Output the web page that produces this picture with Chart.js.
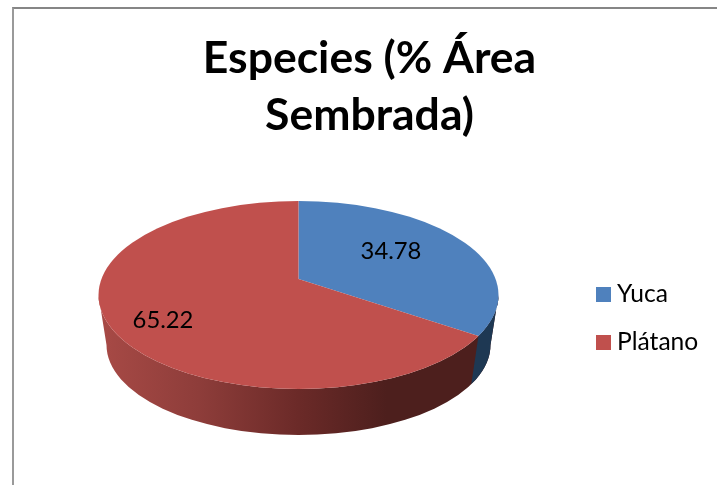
<!DOCTYPE html>
<html>

<head>
    <title>Especies</title>
    <script src="https://cdn.jsdelivr.net/npm/chart.js"></script>
    <style>
        html, body {
            margin: 0;
            background: white;
            overflow: hidden;
        }

        .frame {
            position: absolute;
            left: 12px;
            top: 7px;
            width: 705px;
            height: 478px;
            box-sizing: border-box;
            border-top: 2px solid #868686;
            border-left: 2px solid #9a9a9a;
        }

        canvas {
            position: absolute;
            left: 0;
            top: 0;
        }
    </style>
</head>

<body>
    <div class="frame"></div>
    <canvas id="pieChart" width="717" height="485"></canvas>

    <script>
        const categories = ["Yuca", "Plátano"];
        const values = [34.78, 65.22];
        const valueLabels = ["34.78", "65.22"];
        const topColors = ["#4F81BD", "#C0504D"];

        // 3d look: top face and bottom face ellipses, slices fan out from the apex
        const top3d = { x: 298.5, y: 295, rx: 200, ry: 94 };
        const bottom3d = { x: 298.5, y: 345, rx: 192, ry: 90 };
        const apex = { x: 298.5, y: 279 };
        const squash = 0.449;
        const labelSpots = [{ x: 391, y: 251 }, { x: 163, y: 320 }];
        const legendSpot = { boxX: 596, textX: 617, firstY: 294.5, gap: 48, box: 15 };
        const labelFont = '23.8px Lato';
        const legendFont = '24.6px Lato';

        function edgeParam(angle) {
            // where the slice edge meets the top ellipse
            const ux = Math.cos(angle), uy = squash * Math.sin(angle);
            const px = (apex.x - top3d.x) / top3d.rx, py = (apex.y - top3d.y) / top3d.ry;
            const qx = ux / top3d.rx, qy = uy / top3d.ry;
            const a = qx * qx + qy * qy, b = 2 * (px * qx + py * qy), c = px * px + py * py - 1;
            const s = (-b + Math.sqrt(b * b - 4 * a * c)) / (2 * a);
            return Math.atan2((apex.y + uy * s - top3d.y) / top3d.ry, (apex.x + ux * s - top3d.x) / top3d.rx);
        }

        function wallPath(ctx) {
            ctx.beginPath();
            ctx.ellipse(top3d.x, top3d.y, top3d.rx, top3d.ry, 0, 0, Math.PI);
            ctx.ellipse(bottom3d.x, bottom3d.y, bottom3d.rx, bottom3d.ry, 0, Math.PI, 0, true);
            ctx.closePath();
        }

        const pie3d = {
            id: 'pie3d',
            beforeDatasetsDraw(chart) {
                const ctx = chart.ctx;
                const arcs = chart.getDatasetMeta(0).data;
                const t = edgeParam(arcs[0].endAngle);
                const topX = top3d.x + top3d.rx * Math.cos(t), topY = top3d.y + top3d.ry * Math.sin(t);
                const botX = bottom3d.x + bottom3d.rx * Math.cos(t), botY = bottom3d.y + bottom3d.ry * Math.sin(t);

                // red wall
                const grad = ctx.createLinearGradient(top3d.x - top3d.rx, 0, top3d.x + top3d.rx, 0);
                grad.addColorStop(0, '#A84A46');
                grad.addColorStop(0.25, '#8E3D3A');
                grad.addColorStop(0.5, '#6B2A28');
                grad.addColorStop(0.72, '#4D1F1D');
                grad.addColorStop(1, '#4D1F1D');
                wallPath(ctx);
                ctx.fillStyle = grad;
                ctx.fill();

                // blue wall, right of the slice edge
                ctx.save();
                wallPath(ctx);
                ctx.clip();
                ctx.beginPath();
                ctx.moveTo(topX, topY - 60);
                ctx.lineTo(topX, topY);
                ctx.lineTo(botX, botY);
                ctx.lineTo(botX, botY + 60);
                ctx.lineTo(top3d.x + top3d.rx + 10, botY + 60);
                ctx.lineTo(top3d.x + top3d.rx + 10, topY - 60);
                ctx.closePath();
                ctx.fillStyle = '#1E3853';
                ctx.fill();
                ctx.restore();

                // top face: library arcs, squashed and cut by the ellipse
                ctx.save();
                ctx.beginPath();
                ctx.ellipse(top3d.x, top3d.y, top3d.rx, top3d.ry, 0, 0, Math.PI * 2);
                ctx.clip();
                ctx.translate(apex.x, apex.y);
                ctx.scale(1, squash);
                ctx.translate(-arcs[0].x, -arcs[0].y);
            },
            afterDatasetsDraw(chart) {
                const ctx = chart.ctx;
                ctx.restore();

                ctx.save();
                ctx.font = labelFont;
                ctx.fillStyle = '#000000';
                ctx.textBaseline = 'middle';
                ctx.textAlign = 'center';
                valueLabels.forEach((label, i) => {
                    ctx.fillText(label, labelSpots[i].x, labelSpots[i].y);
                });

                // legend
                ctx.font = legendFont;
                ctx.textAlign = 'left';
                categories.forEach((name, i) => {
                    const y = legendSpot.firstY + i * legendSpot.gap;
                    ctx.fillStyle = topColors[i];
                    ctx.fillRect(legendSpot.boxX, y - legendSpot.box / 2, legendSpot.box, legendSpot.box);
                    ctx.fillStyle = '#000000';
                    ctx.fillText(name, legendSpot.textX, y);
                });
                ctx.restore();
            }
        };

        new Chart(document.getElementById('pieChart'), {
            type: 'pie',
            data: {
                labels: categories,
                datasets: [{
                    data: values,
                    backgroundColor: topColors,
                    borderWidth: 0,
                    clip: false
                }]
            },
            options: {
                responsive: false,
                animation: false,
                radius: 320,
                layout: {
                    padding: { left: 22, top: 30 }
                },
                plugins: {
                    legend: { display: false },
                    tooltip: { enabled: false },
                    title: {
                        display: true,
                        text: ['Especies (% Área', 'Sembrada)'],
                        color: '#000000',
                        font: { family: 'Lato', size: 44.5, weight: 'bold', lineHeight: 1.28 },
                        padding: 0
                    }
                }
            },
            plugins: [pie3d]
        });
    </script>
</body>

</html>
